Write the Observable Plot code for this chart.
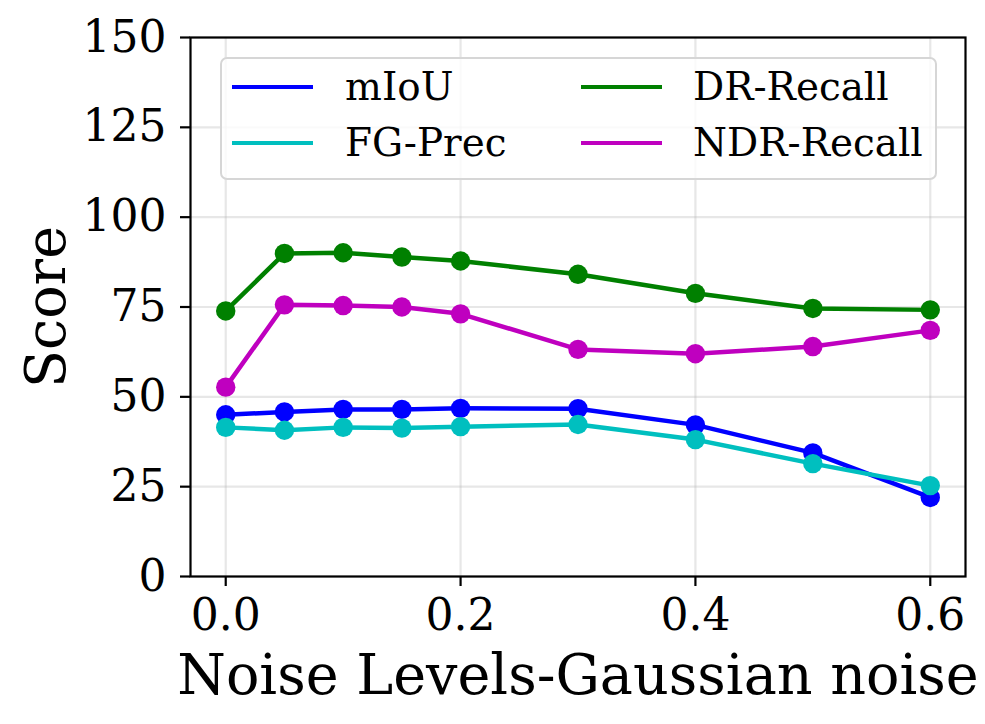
<!DOCTYPE html>
<html>
<head>
<meta charset="utf-8">
<script src="https://cdn.jsdelivr.net/npm/d3@7"></script>
<script src="https://cdn.jsdelivr.net/npm/@observablehq/plot@0.6"></script>
<style>
  html, body { margin: 0; padding: 0; background: #fff; }
  #wrap { position: relative; width: 985px; height: 724px; font-family: "DejaVu Serif", serif; }
  #legend { position: absolute; left: 220px; top: 57px; width: 713px; height: 119px;
    border: 2.2px solid #d6d6d6; border-radius: 7px; background: rgba(255,255,255,0.8); }
  .lg-line { position: absolute; height: 4.5px; width: 81px; }
  .lg-text { position: absolute; font-size: 38.9px; line-height: 1; white-space: nowrap; color: #000; }
</style>
</head>
<body>
<div id="wrap"></div>
<script>
const noiseLevels = [0, 0.05, 0.1, 0.15, 0.2, 0.3, 0.4, 0.5, 0.6];
const seriesNames = ["mIoU", "FG-Prec", "DR-Recall", "NDR-Recall"];
const seriesColors = ["#0000ff", "#00bfbf", "#008000", "#bf00bf"];
const mIoU      = [45.0, 45.8, 46.5, 46.5, 46.8, 46.7, 42.2, 34.4, 22.0];
const fgPrec    = [41.5, 40.7, 41.5, 41.3, 41.7, 42.3, 38.1, 31.4, 25.3];
const drRecall  = [73.9, 89.9, 90.1, 88.9, 87.8, 84.1, 78.8, 74.6, 74.2];
const ndrRecall = [52.7, 75.6, 75.4, 75.0, 73.1, 63.2, 62.0, 64.0, 68.5];
const xTicks = [0, 0.2, 0.4, 0.6];
const yTicks = [0, 25, 50, 75, 100, 125, 150];
const xLabel = "Noise Levels-Gaussian noise";
const yLabel = "Score";

const seriesValues = [mIoU, fgPrec, drRecall, ndrRecall];
const FONT = "DejaVu Serif";

const seriesMarks = [];
seriesNames.forEach((name, i) => {
  const rows = noiseLevels.map((x, j) => ({x, y: seriesValues[i][j], series: name}));
  seriesMarks.push(Plot.line(rows, {x: "x", y: "y", stroke: seriesColors[i], strokeWidth: 4.5}));
  seriesMarks.push(Plot.dot(rows, {x: "x", y: "y", fill: seriesColors[i], r: 9.7}));
});

const chart = Plot.plot({
  width: 985,
  height: 724,
  marginLeft: 190,
  marginRight: 20,
  marginTop: 37,
  marginBottom: 148,
  style: {fontFamily: FONT, fontSize: "44px", color: "#000", background: "#fff"},
  x: {domain: [-0.03, 0.63]},
  y: {domain: [0, 150]},
  marks: [
    Plot.gridX(xTicks, {stroke: "#b0b0b0", strokeOpacity: 0.3, strokeWidth: 2.2}),
    Plot.gridY(yTicks, {stroke: "#b0b0b0", strokeOpacity: 0.3, strokeWidth: 2.2}),
    ...seriesMarks,
    Plot.frame({stroke: "#000", strokeWidth: 2.2}),
    Plot.axisX({ticks: xTicks, tickFormat: d3.format(".1f"), tickSize: 10, tickPadding: 12,
      strokeWidth: 2.2, fontSize: 44, label: null}),
    Plot.axisY({ticks: yTicks, tickFormat: d3.format("d"), tickSize: 10, tickPadding: 14,
      strokeWidth: 2.2, fontSize: 44, label: null}),
    Plot.text([yLabel], {text: d => d, frameAnchor: "left", textAnchor: "middle", dx: -143, rotate: -90,
      fontSize: 55.6, fontFamily: FONT, fill: "#000"}),
    Plot.text([xLabel], {text: d => d, frameAnchor: "bottom", dy: 117, lineAnchor: "bottom",
      fontSize: 55.6, fontFamily: FONT, fill: "#000"})
  ]
});

const wrap = document.getElementById("wrap");
wrap.appendChild(chart);

// Legend (HTML overlay inside plot area)
const legend = document.createElement("div");
legend.id = "legend";
wrap.appendChild(legend);
const colX = [[10, 123], [359, 471]];   // [handle left, text left] relative to legend box
const rowY = [28, 84];                   // handle centre y relative to legend box
const order = [[0, 0], [0, 1], [1, 0], [1, 1]]; // [col,row] for each series
seriesNames.forEach((name, i) => {
  const [c, r] = order[i];
  const ln = document.createElement("div");
  ln.className = "lg-line";
  ln.style.left = colX[c][0] + "px";
  ln.style.top = (rowY[r] - 2.25) + "px";
  ln.style.background = seriesColors[i];
  legend.appendChild(ln);
  const tx = document.createElement("div");
  tx.className = "lg-text";
  tx.textContent = name;
  tx.style.left = colX[c][1] + "px";
  tx.style.top = (rowY[r] - 19.5) + "px";
  legend.appendChild(tx);
});
</script>
</body>
</html>
